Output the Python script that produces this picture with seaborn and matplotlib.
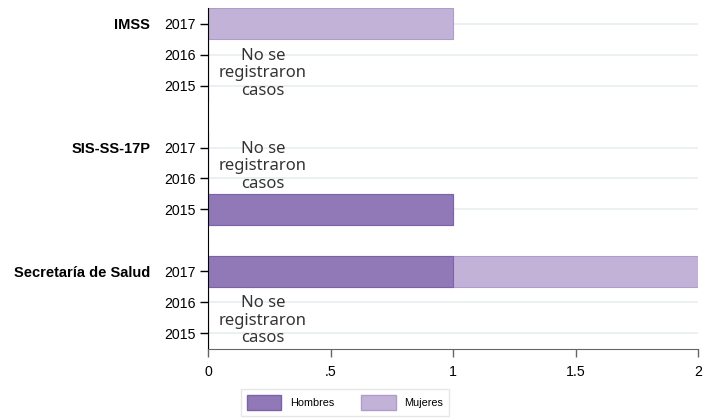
import matplotlib
matplotlib.use('Agg')
import matplotlib.pyplot as plt
from matplotlib.patches import Patch
import seaborn as sns
import pandas as pd

# datos
grupos = ['IMSS', 'SIS-SS-17P', 'Secretaría de Salud']
anios = ['2017', '2016', '2015']
hombres = {'IMSS': [0, 0, 0], 'SIS-SS-17P': [0, 0, 1], 'Secretaría de Salud': [1, 0, 0]}
mujeres = {'IMSS': [1, 0, 0], 'SIS-SS-17P': [0, 0, 0], 'Secretaría de Salud': [1, 0, 0]}
xticks = [0, 0.5, 1, 1.5, 2]
xlabels = ['0', '.5', '1', '1.5', '2']

color_h = '#9179b7'
color_m = '#c2b2d8'

sns.set_style('white')
plt.rcParams['font.family'] = ['Liberation Sans', 'DejaVu Sans']
plt.rcParams['text.color'] = 'black'
plt.rcParams['xtick.color'] = 'black'
plt.rcParams['ytick.color'] = 'black'

# tabla con una fila por grupo-año, y huecos entre grupos
filas = []
orden = []
for i, g in enumerate(grupos):
    if i > 0:
        orden.append('hueco%d' % i)
    for j, a in enumerate(anios):
        clave = g + '|' + a
        orden.append(clave)
        filas.append({'slot': clave, 'grupo': g, 'anio': a,
                      'hombres': hombres[g][j],
                      'total': hombres[g][j] + mujeres[g][j]})
df = pd.DataFrame(filas)

fig = plt.figure(figsize=(7.11, 4.19), dpi=100)
ax = fig.add_axes([208/711, 1 - 348.5/419, 490/711, 340/419])

sns.barplot(data=df, x='total', y='slot', order=orden, orient='h', width=1.0,
            color=color_m, edgecolor='#b09ccc', linewidth=0.8, saturation=1, ax=ax)
sns.barplot(data=df, x='hombres', y='slot', order=orden, orient='h', width=1.0,
            color=color_h, edgecolor='#7c62a8', linewidth=0.8, saturation=1, ax=ax)

pos = [orden.index(s) for s in df['slot']]
ax.set_yticks(pos)
ax.set_yticklabels(df['anio'], fontsize=10.2)
ax.set_ylim(len(orden) - 0.5, -0.5)
ax.set_xlim(0, 2)
ax.set_xticks(xticks)
ax.set_xticklabels(xlabels, fontsize=10.2)
ax.set_xlabel('')
ax.set_ylabel('')

ax.grid(axis='y', color='#e7edf1', linewidth=1.2)
ax.set_axisbelow(True)
ax.tick_params(axis='y', left=True, length=6, width=1, color='black',
               labelcolor='black', pad=3)
ax.tick_params(axis='x', bottom=True, length=6, width=1, color='#666666',
               labelcolor='black', pad=6)
ax.spines['top'].set_visible(False)
ax.spines['right'].set_visible(False)
ax.spines['left'].set_color('black')
ax.spines['bottom'].set_color('#666666')

trans = ax.get_yaxis_transform()
for g in grupos:
    y = orden.index(g + '|2017')
    ax.text(-0.118, y, g, transform=trans, ha='right', va='center_baseline',
            fontsize=10.5, fontweight='bold', color='black')

# texto en grupos sin casos
for g in grupos:
    vacios = [orden.index(g + '|' + a) for j, a in enumerate(anios)
              if hombres[g][j] + mujeres[g][j] == 0]
    if len(vacios) >= 2:
        yc = sum(vacios) / len(vacios) + 0.1
        ax.text(0.224, yc, 'No se\nregistraron\ncasos', ha='center', va='center',
                fontsize=12, color='#333333', family=['Noto Sans', 'DejaVu Sans'],
                linespacing=1.12)

handles = [Patch(facecolor=color_h, edgecolor='#7c62a8', label='Hombres'),
           Patch(facecolor=color_m, edgecolor='#b09ccc', label='Mujeres')]
fig.legend(handles=handles, loc='lower center', bbox_to_anchor=(345/711, -0.005),
           ncol=2, fontsize=7.8, frameon=True, fancybox=False, edgecolor='#e0e0e0',
           handlelength=3.2, handleheight=1.7, columnspacing=2.5, borderpad=0.55)

fig.savefig('out.png', dpi=100)
